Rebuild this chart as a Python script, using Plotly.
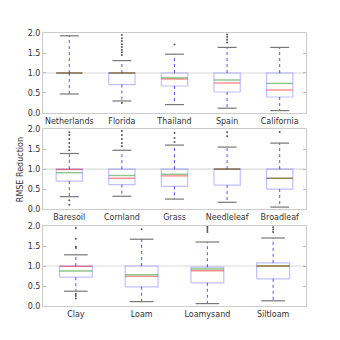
import plotly.graph_objects as go

# Panel 1: regions
cat1 = ["Netherlands", "Florida", "Thailand", "Spain", "California"]
q1_1 = [1.0, 0.71, 0.675, 0.525, 0.40]
q3_1 = [1.0, 1.0, 1.0, 1.0, 1.0]
med1 = [1.0, 1.0, 0.85, 0.75, 0.575]
mean1 = [1.0, 1.0, 0.88, 0.825, 0.74]
lo1 = [0.475, 0.30, 0.21, 0.12, 0.06]
hi1 = [1.93, 1.31, 1.47, 1.64, 1.64]
fl1 = [[], [1.45, 1.52, 1.58, 1.65, 1.72, 1.8, 1.87, 1.95, 0.25], [1.71],
       [1.76, 1.83, 1.9, 1.96], []]

# Panel 2: land cover
cat2 = ["Baresoil", "Cornland", "Grass", "Needleleaf", "Broadleaf"]
q1_2 = [0.70, 0.61, 0.57, 0.60, 0.50]
q3_2 = [1.0, 1.0, 1.0, 1.0, 1.0]
med2 = [0.99, 0.77, 0.83, 1.0, 0.77]
mean2 = [0.91, 0.84, 0.87, 1.0, 0.77]
lo2 = [0.31, 0.32, 0.25, 0.17, 0.05]
hi2 = [1.39, 1.47, 1.60, 1.55, 1.65]
fl2 = [[1.47, 1.55, 1.65, 1.75, 1.85, 1.92, 0.22, 0.11],
       [1.57, 1.65, 1.75, 1.85, 1.95], [1.68, 1.78, 1.9], [1.82, 1.92], [1.93]]

# Panel 3: soil
cat3 = ["Clay", "Loam", "Loamysand", "Siltloam"]
q1_3 = [0.72, 0.48, 0.58, 0.68]
q3_3 = [1.0, 1.0, 0.97, 1.08]
med3 = [0.99, 0.74, 0.88, 1.0]
mean3 = [0.875, 0.78, 0.925, 1.0]
lo3 = [0.37, 0.11, 0.06, 0.13]
hi3 = [1.28, 1.67, 1.60, 1.70]
fl3 = [[1.45, 1.48, 1.68, 1.95, 0.30, 0.25, 0.19], [1.92],
       [1.85, 1.9, 1.95, 1.99], [1.85, 1.91, 1.97]]

yticks = [0.0, 0.5, 1.0, 1.5, 2.0]

panels = [
    (cat1, q1_1, q3_1, med1, mean1, lo1, hi1, fl1),
    (cat2, q1_2, q3_2, med2, mean2, lo2, hi2, fl2),
    (cat3, q1_3, q3_3, med3, mean3, lo3, hi3, fl3),
]
domains = [[0.707, 1.0], [0.355, 0.648], [0.0, 0.293]]

BOX = "rgba(0,0,255,0.25)"
WHISK = "rgba(40,40,255,0.8)"
CAP = "#777777"
MED = "rgba(255,0,0,0.45)"
MEAN = "rgba(0,128,0,0.45)"
hw = 0.25
cw = 0.18

fig = go.Figure()
for p, (cats, q1, q3, med, mean, lo, hi, fl) in enumerate(panels):
    xa = "x" if p == 0 else f"x{p+1}"
    ya = "y" if p == 0 else f"y{p+1}"
    bx, by, wx, wy, cx, cy, mx, my, ax, ay, fx, fy = ([] for _ in range(12))
    for i in range(len(cats)):
        c = i + 1
        bx += [c - hw, c + hw, c + hw, c - hw, c - hw, None]
        by += [q1[i], q1[i], q3[i], q3[i], q1[i], None]
        wx += [c, c, None, c, c, None]
        wy += [q3[i], hi[i], None, q1[i], lo[i], None]
        cx += [c - cw, c + cw, None, c - cw, c + cw, None]
        cy += [hi[i], hi[i], None, lo[i], lo[i], None]
        mx += [c - hw, c + hw, None]
        my += [med[i], med[i], None]
        ax += [c - hw, c + hw, None]
        ay += [mean[i], mean[i], None]
        fx += [c] * len(fl[i])
        fy += fl[i]
    common = dict(xaxis=xa, yaxis=ya, showlegend=False, hoverinfo="skip")
    # reference line at 1.0
    fig.add_trace(go.Scatter(x=[0.5, len(cats) + 0.5], y=[1.0, 1.0], mode="lines",
                             line=dict(color="#d9d9d9", width=1.2), **common))
    fig.add_trace(go.Scatter(x=wx, y=wy, mode="lines",
                             line=dict(color=WHISK, width=1, dash="dot"), **common))
    fig.add_trace(go.Scatter(x=bx, y=by, mode="lines",
                             line=dict(color=BOX, width=1.2), **common))
    fig.add_trace(go.Scatter(x=cx, y=cy, mode="lines",
                             line=dict(color=CAP, width=1.2), **common))
    fig.add_trace(go.Scatter(x=mx, y=my, mode="lines",
                             line=dict(color=MED, width=1.4), **common))
    fig.add_trace(go.Scatter(x=ax, y=ay, mode="lines",
                             line=dict(color=MEAN, width=1.4), **common))
    fig.add_trace(go.Scatter(x=fx, y=fy, mode="markers",
                             marker=dict(color="#555555", size=2), cliponaxis=False, **common))

    xk = "xaxis" if p == 0 else f"xaxis{p+1}"
    yk = "yaxis" if p == 0 else f"yaxis{p+1}"
    fig.layout[xk] = dict(domain=[0, 1], anchor=ya, range=[0.5, len(cats) + 0.5],
                          tickvals=list(range(1, len(cats) + 1)), ticktext=cats,
                          showgrid=False, zeroline=False, showline=True, mirror=True,
                          linecolor="#cccccc", linewidth=1, ticks="", tickfont=dict(size=8, color="#333"))
    fig.layout[yk] = dict(domain=domains[p], anchor=xa, range=[0, 2],
                          tickvals=yticks, ticktext=[f"{v:.1f}" for v in yticks],
                          showgrid=False, zeroline=False, showline=True, mirror="ticks",
                          linecolor="#cccccc", linewidth=1, ticks="inside", ticklen=3,
                          tickcolor="#bbbbbb", tickfont=dict(size=8, color="#333"))

fig.add_annotation(text="RMSE Reduction", xref="paper", yref="paper", x=-0.087, y=0.498,
                   textangle=-90, showarrow=False, font=dict(size=8, color="#333"),
                   xanchor="center", yanchor="middle")

fig.update_layout(width=340, height=340, margin=dict(l=43, r=34, t=33, b=34),
                  paper_bgcolor="white", plot_bgcolor="white",
                  font=dict(family="DejaVu Sans", size=8, color="#333"))
fig.write_html("out.html")
